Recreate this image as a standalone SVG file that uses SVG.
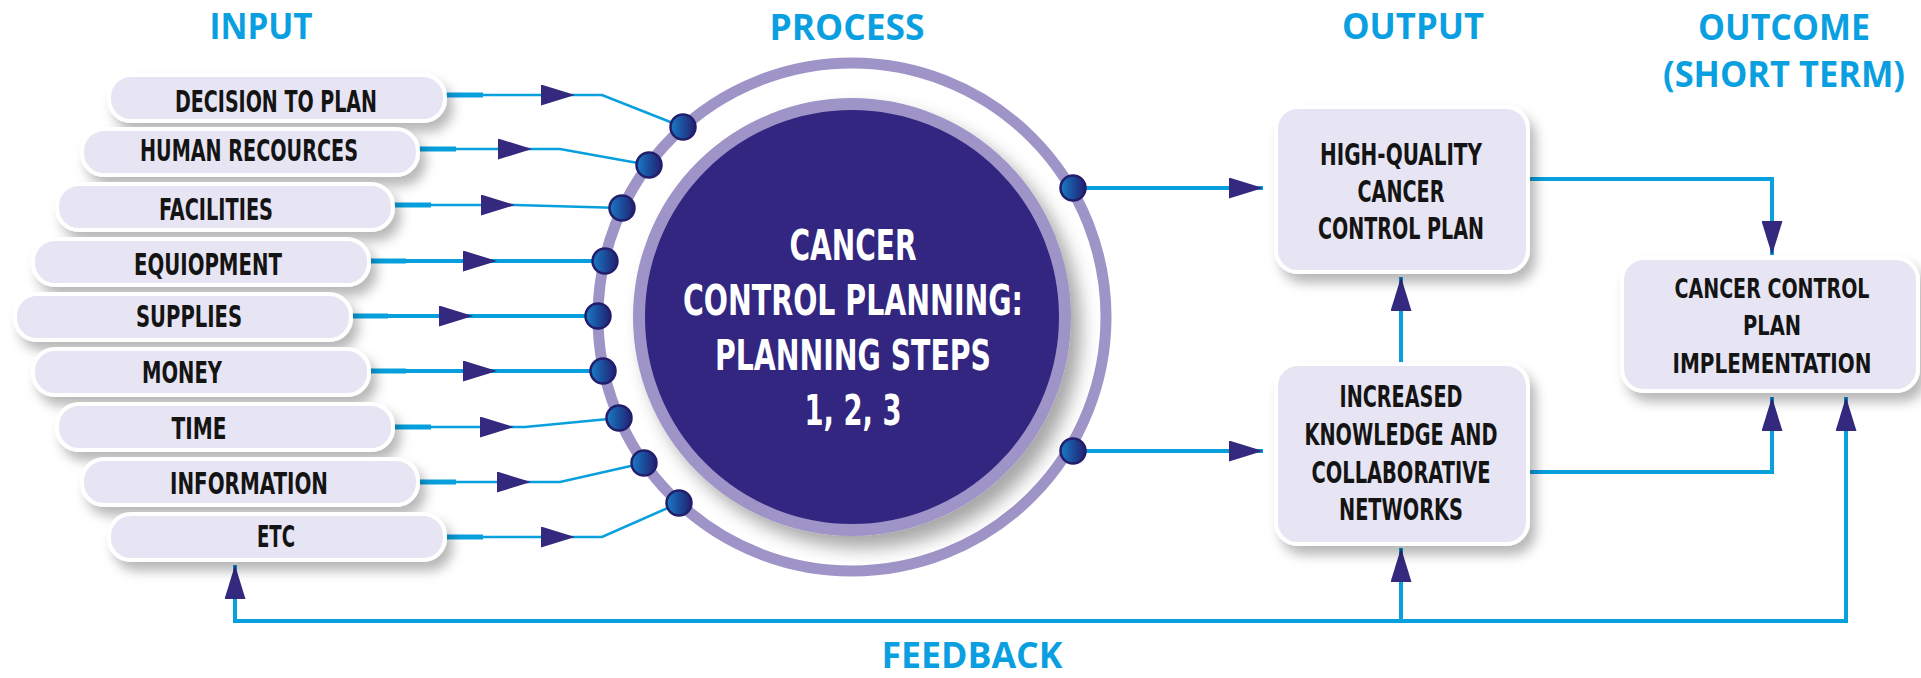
<svg xmlns="http://www.w3.org/2000/svg" width="1921" height="678" viewBox="0 0 1921 678">
<defs>
<style>
.title{font-family:"Open Sans","Liberation Sans",sans-serif;font-weight:700;font-size:36px;fill:#0a9fe0;text-anchor:middle}
.lbl{font-family:"Liberation Sans Narrow","DejaVu Sans Condensed","Liberation Sans",sans-serif;font-stretch:condensed;font-weight:700;font-size:30px;fill:#141414;text-anchor:middle}
.lbl2{font-size:27px}
.ctext{font-family:"Liberation Sans Narrow","DejaVu Sans Condensed","Liberation Sans",sans-serif;font-stretch:condensed;font-weight:700;font-size:43px;fill:#ffffff;text-anchor:middle}
.pill{fill:#e7e5f3;stroke:#ffffff;stroke-width:4;filter:url(#sh)}
.box{fill:#e7e5f3;stroke:#ffffff;stroke-width:4;filter:url(#sh)}
.ln{fill:none;stroke:#089fdd;stroke-linejoin:miter}
.thick{stroke-width:5}
.mid{stroke-width:4}
.thin{stroke-width:2.6}
.arr{marker-end:url(#arr)}
.dot{fill:url(#dotg);stroke:#221e6b;stroke-width:2.5}
</style>
<marker id="arr" markerUnits="userSpaceOnUse" viewBox="0 0 34 21" markerWidth="34" markerHeight="21" refX="34" refY="10.5" orient="auto">
<path d="M0,0 L34,10.5 L0,21 Z" fill="#33297f"/>
</marker>
<filter id="sh" x="-10%" y="-20%" width="130%" height="170%">
<feDropShadow dx="6" dy="9" stdDeviation="6" flood-color="#000000" flood-opacity="0.28"/>
</filter>
<filter id="csh" x="-20%" y="-20%" width="150%" height="150%">
<feDropShadow dx="10" dy="12" stdDeviation="9" flood-color="#000000" flood-opacity="0.35"/>
</filter>
<linearGradient id="dotg" x1="0" y1="0" x2="1" y2="0">
<stop offset="0" stop-color="#1a7cc6"/>
<stop offset="0.5" stop-color="#1b4c9a"/>
<stop offset="1" stop-color="#241f70"/>
</linearGradient>
</defs>
<rect width="1921" height="678" fill="#ffffff"/>

<g id="titles">
<text class="title" x="261" y="39" textLength="103" lengthAdjust="spacingAndGlyphs">INPUT</text>
<text class="title" x="847" y="40" textLength="155" lengthAdjust="spacingAndGlyphs">PROCESS</text>
<text class="title" x="1413" y="39" textLength="142" lengthAdjust="spacingAndGlyphs">OUTPUT</text>
<text class="title" x="1784" y="40" textLength="172" lengthAdjust="spacingAndGlyphs">OUTCOME</text>
<text class="title" x="1784" y="87" textLength="242" lengthAdjust="spacingAndGlyphs">(SHORT TERM)</text>
<text class="title" x="972" y="668" textLength="181" lengthAdjust="spacingAndGlyphs">FEEDBACK</text>
</g>

<g id="connectors">
<path class="ln thick" d="M445,95 H483"/><path class="ln thin arr" d="M483,95 H575"/><path class="ln thin" d="M575,95 H602 L683,127"/>
<path class="ln thick" d="M418,149 H456"/><path class="ln thin arr" d="M456,149 H532"/><path class="ln thin" d="M532,149 H560 L649,165"/>
<path class="ln thick" d="M393,205 H431"/><path class="ln thin arr" d="M431,205 H515"/><path class="ln thin" d="M515,205 L622,208"/>
<path class="ln thick" d="M368,261 H406"/><path class="ln mid arr" d="M406,261 H497"/><path class="ln mid" d="M497,261 H605"/>
<path class="ln thick" d="M350,316 H388"/><path class="ln mid arr" d="M388,316 H473"/><path class="ln mid" d="M473,316 H598"/>
<path class="ln thick" d="M368,371 H406"/><path class="ln mid arr" d="M406,371 H497"/><path class="ln mid" d="M497,371 H603"/>
<path class="ln thick" d="M393,427 H431"/><path class="ln thin arr" d="M431,427 H514"/><path class="ln thin" d="M514,427 H525 L619,418"/>
<path class="ln thick" d="M418,482 H456"/><path class="ln thin arr" d="M456,482 H531"/><path class="ln thin" d="M531,482 H560 L644,463"/>
<path class="ln thick" d="M445,537 H483"/><path class="ln thin arr" d="M483,537 H575"/><path class="ln thin" d="M575,537 H602 L679,503"/>
<path class="ln mid arr" d="M1073,188 H1263"/>
<path class="ln mid arr" d="M1073,451 H1263"/>
<path class="ln mid arr" d="M1401,364 V277"/>
<path class="ln mid arr" d="M1528,179 H1772 V255"/>
<path class="ln mid arr" d="M1528,472 H1772 V397"/>
<path class="ln mid arr" d="M1846,621 H235 V565"/>
<path class="ln mid arr" d="M1846,623 V397"/>
<path class="ln mid arr" d="M1401,621 V548"/>
</g>

<g id="input-decision"><rect class="pill" x="109" y="75" width="336" height="46" rx="22"/><text class="lbl" x="276" y="112" textLength="202" lengthAdjust="spacingAndGlyphs">DECISION TO PLAN</text></g>
<g id="input-human"><rect class="pill" x="82" y="129" width="336" height="46" rx="22"/><text class="lbl" x="249" y="161" textLength="218" lengthAdjust="spacingAndGlyphs">HUMAN RECOURCES</text></g>
<g id="input-facilities"><rect class="pill" x="57" y="184" width="336" height="46" rx="22"/><text class="lbl" x="216" y="220" textLength="114" lengthAdjust="spacingAndGlyphs">FACILITIES</text></g>
<g id="input-equipment"><rect class="pill" x="33" y="239" width="336" height="46" rx="22"/><text class="lbl" x="208" y="275" textLength="148" lengthAdjust="spacingAndGlyphs">EQUIOPMENT</text></g>
<g id="input-supplies"><rect class="pill" x="15" y="294" width="336" height="46" rx="22"/><text class="lbl" x="189" y="327" textLength="106" lengthAdjust="spacingAndGlyphs">SUPPLIES</text></g>
<g id="input-money"><rect class="pill" x="33" y="349" width="336" height="46" rx="22"/><text class="lbl" x="182" y="383" textLength="80" lengthAdjust="spacingAndGlyphs">MONEY</text></g>
<g id="input-time"><rect class="pill" x="57" y="404" width="336" height="46" rx="22"/><text class="lbl" x="199" y="439" textLength="55" lengthAdjust="spacingAndGlyphs">TIME</text></g>
<g id="input-information"><rect class="pill" x="82" y="459" width="336" height="46" rx="22"/><text class="lbl" x="249" y="494" textLength="158" lengthAdjust="spacingAndGlyphs">INFORMATION</text></g>
<g id="input-etc"><rect class="pill" x="109" y="514" width="336" height="46" rx="22"/><text class="lbl" x="276" y="547" textLength="38" lengthAdjust="spacingAndGlyphs">ETC</text></g>

<g id="process">
<circle cx="852" cy="317" r="254" fill="none" stroke="#9e94c7" stroke-width="11"/>
<circle cx="852" cy="317" r="213" fill="#312680" stroke="#9e94c7" stroke-width="12" filter="url(#csh)"/>
<text class="ctext" x="853" y="260" textLength="127" lengthAdjust="spacingAndGlyphs">CANCER</text>
<text class="ctext" x="853" y="315" textLength="340" lengthAdjust="spacingAndGlyphs">CONTROL PLANNING:</text>
<text class="ctext" x="853" y="370" textLength="276" lengthAdjust="spacingAndGlyphs">PLANNING STEPS</text>
<text class="ctext" x="853" y="425" textLength="97" lengthAdjust="spacingAndGlyphs">1, 2, 3</text>
<circle class="dot" cx="683" cy="127" r="12.5"/>
<circle class="dot" cx="649" cy="165" r="12.5"/>
<circle class="dot" cx="622" cy="208" r="12.5"/>
<circle class="dot" cx="605" cy="261" r="12.5"/>
<circle class="dot" cx="598" cy="316" r="12.5"/>
<circle class="dot" cx="603" cy="371" r="12.5"/>
<circle class="dot" cx="619" cy="418" r="12.5"/>
<circle class="dot" cx="644" cy="463" r="12.5"/>
<circle class="dot" cx="679" cy="503" r="12.5"/>
<circle class="dot" cx="1073" cy="188" r="12.5"/>
<circle class="dot" cx="1073" cy="451" r="12.5"/>
</g>

<g id="output-plan"><rect class="box" x="1276" y="107" width="252" height="165" rx="22"/>
<text class="lbl" x="1401" y="165" textLength="162" lengthAdjust="spacingAndGlyphs">HIGH-QUALITY</text>
<text class="lbl" x="1401" y="202" textLength="87" lengthAdjust="spacingAndGlyphs">CANCER</text>
<text class="lbl" x="1401" y="239" textLength="166" lengthAdjust="spacingAndGlyphs">CONTROL PLAN</text></g>

<g id="output-knowledge"><rect class="box" x="1276" y="364" width="252" height="180" rx="22"/>
<text class="lbl" x="1401" y="407" textLength="123" lengthAdjust="spacingAndGlyphs">INCREASED</text>
<text class="lbl" x="1401" y="445" textLength="193" lengthAdjust="spacingAndGlyphs">KNOWLEDGE AND</text>
<text class="lbl" x="1401" y="483" textLength="179" lengthAdjust="spacingAndGlyphs">COLLABORATIVE</text>
<text class="lbl" x="1401" y="520" textLength="124" lengthAdjust="spacingAndGlyphs">NETWORKS</text></g>

<g id="outcome-implementation"><rect class="box" x="1622" y="258" width="296" height="133" rx="22"/>
<text class="lbl lbl2" x="1772" y="298" textLength="195" lengthAdjust="spacingAndGlyphs">CANCER CONTROL</text>
<text class="lbl lbl2" x="1772" y="335" textLength="58" lengthAdjust="spacingAndGlyphs">PLAN</text>
<text class="lbl lbl2" x="1772" y="373" textLength="199" lengthAdjust="spacingAndGlyphs">IMPLEMENTATION</text></g>
</svg>
